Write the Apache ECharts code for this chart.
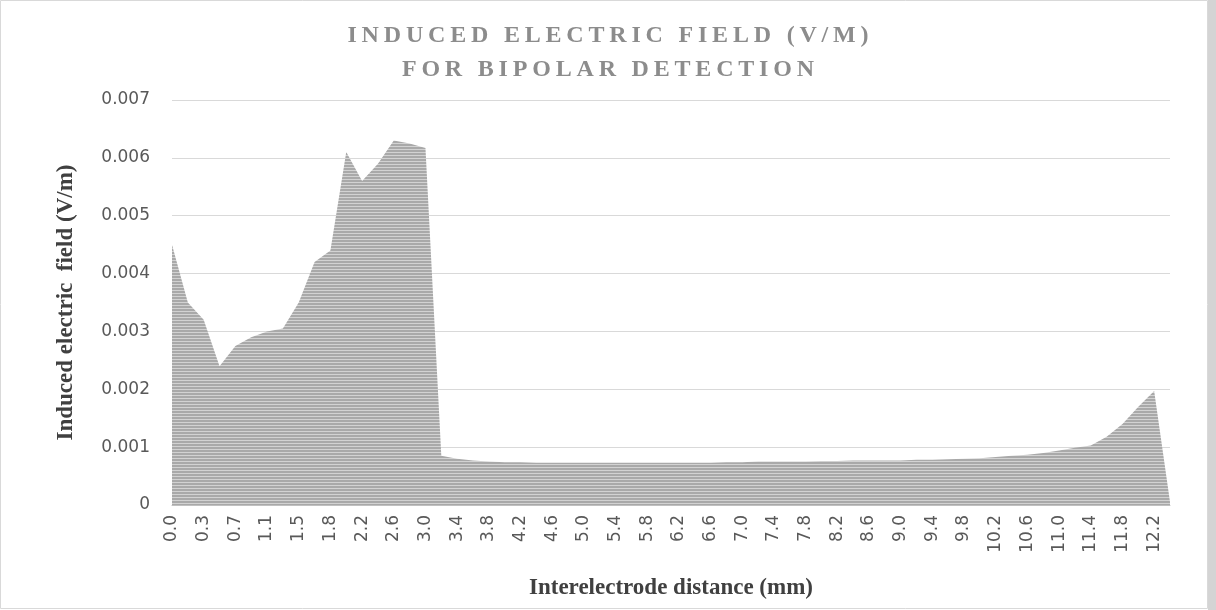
<!DOCTYPE html>
<html>
<head>
<meta charset="utf-8">
<script src="https://cdn.jsdelivr.net/npm/echarts@6/dist/echarts.min.js"></script>
<style>
  html, body { margin: 0; padding: 0; background: #fff; }
  #chart-container { width: 1216px; height: 610px; }
</style>
</head>
<body>
<div id="chart-container"></div>
<script>
// distance categories (mm), every other one labelled
var distances = ['0.0','0.2','0.3','0.5','0.7','0.9','1.1','1.3','1.5','1.6','1.8','2.0','2.2','2.4','2.6','2.8',
    '3.0','3.2','3.4','3.6','3.8','4.0','4.2','4.4','4.6','4.8','5.0','5.2','5.4','5.6','5.8','6.0',
    '6.2','6.4','6.6','6.8','7.0','7.2','7.4','7.6','7.8','8.0','8.2','8.4','8.6','8.8','9.0','9.2',
    '9.4','9.6','9.8','10.0','10.2','10.4','10.6','10.8','11.0','11.2','11.4','11.6','11.8','12.0','12.2','12.4'];

// induced electric field (V/m)
var fieldValues = [0.0045,0.0035,0.0032,0.0024,0.00275,0.0029,0.0030,0.00305,0.0035,0.0042,0.0044,0.0061,0.0056,0.0059,0.0063,0.00625,
    0.00617,0.00085,0.0008,0.00077,0.00075,0.00074,0.00074,0.00073,0.00073,0.00073,0.00073,0.00073,0.00073,0.00073,0.00073,0.00073,
    0.00073,0.00073,0.00073,0.00074,0.00074,0.00075,0.00075,0.00075,0.00075,0.00076,0.00076,0.00077,0.00077,0.00077,0.00077,0.00078,
    0.00078,0.00079,0.0008,0.00081,0.00083,0.00085,0.00087,0.0009,0.00094,0.00099,0.00103,0.00118,0.0014,0.0017,0.00197,0.00005];

var yTicks = ['0','0.001','0.002','0.003','0.004','0.005','0.006','0.007'];

// spread the title letters out (no letter-spacing support in the canvas text)
function spaced(s) {
    return s.split('').join('\u2009');
}

// striped fill like the original
var stripe = document.createElement('canvas');
stripe.width = 4; stripe.height = 3;
var ctx = stripe.getContext('2d');
ctx.fillStyle = '#a9a9a9'; ctx.fillRect(0, 0, 4, 2);
ctx.fillStyle = '#d2d2d2'; ctx.fillRect(0, 2, 4, 1);

var myChart = echarts.init(document.getElementById('chart-container'));

var option = {
    animation: false,
    title: {
        text: spaced('INDUCED ELECTRIC FIELD (V/M)') + '\n' + spaced('FOR BIPOLAR DETECTION'),
        left: 'center',
        top: 14,
        textStyle: {
            fontFamily: 'Liberation Serif',
            fontWeight: 'bold',
            fontSize: 24,
            lineHeight: 34,
            color: '#8c8c8c'
        }
    },
    grid: { left: 172, right: 46, top: 100, bottom: 105 },
    xAxis: {
        type: 'category',
        data: distances,
        boundaryGap: false,
        name: 'Interelectrode distance (mm)',
        nameLocation: 'middle',
        nameGap: 72,
        nameTextStyle: { fontFamily: 'Liberation Serif', fontWeight: 'bold', fontSize: 23, color: '#404040' },
        axisLine: { lineStyle: { color: '#c0c0c0', width: 1 } },
        axisTick: { show: false },
        axisLabel: {
            interval: 1,
            rotate: 90,
            fontFamily: 'DejaVu Sans',
            fontSize: 17,
            color: '#595959',
            margin: 10
        }
    },
    yAxis: {
        type: 'value',
        min: 0,
        max: 0.007,
        interval: 0.001,
        name: 'Induced electric  field (V/m)',
        nameLocation: 'middle',
        nameGap: 94,
        nameTextStyle: { fontFamily: 'Liberation Serif', fontWeight: 'bold', fontSize: 23, color: '#404040' },
        axisLine: { show: false },
        axisTick: { show: false },
        splitLine: { lineStyle: { color: '#d9d9d9' } },
        axisLabel: {
            fontFamily: 'DejaVu Sans',
            fontSize: 17,
            color: '#595959',
            margin: 22,
            formatter: function (v) { return yTicks[Math.round(v * 1000)]; }
        }
    },
    series: [{
        type: 'line',
        data: fieldValues,
        symbol: 'none',
        lineStyle: { width: 0 },
        areaStyle: { color: { image: stripe, repeat: 'repeat' }, opacity: 1 }
    }],
    graphic: [
        { type: 'rect', shape: { x: 0.5, y: 0.5, width: 1207, height: 608 },
          style: { fill: 'none', stroke: '#d9d9d9', lineWidth: 1 } },
        { type: 'rect', shape: { x: 1208, y: 0, width: 8, height: 610 },
          style: { fill: '#d4d4d4' } }
    ]
};

myChart.setOption(option);
</script>
</body>
</html>
